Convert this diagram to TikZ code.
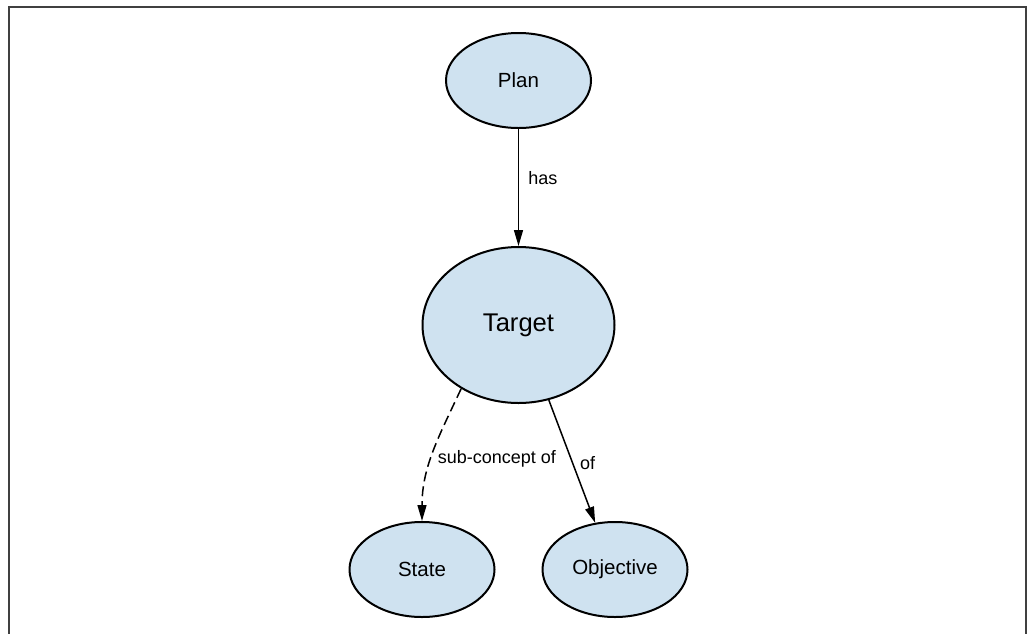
\documentclass[tikz,border=0pt]{standalone}
\usepackage{fontspec}
\setmainfont{Liberation Sans}
\usetikzlibrary{shapes.geometric, arrows.meta, positioning}
\definecolor{conceptfill}{RGB}{207,226,240}
\tikzset{
  concept/.style={ellipse, minimum width=145pt, minimum height=95pt, inner sep=0pt,
    text centered, draw=black, line width=2pt, fill=conceptfill, font=\fontsize{20.5}{24}\selectfont},
  bigconcept/.style={concept, minimum width=192pt, minimum height=156pt, font=\fontsize{25.6}{30}\selectfont},
  arr/.style={-{Triangle[length=16pt, width=9pt]}, line width=1.5pt, draw=black},
  darr/.style={arr, dash pattern=on 10pt off 5pt},
  lbl/.style={font=\fontsize{18}{22}\selectfont, inner sep=2pt},
  frame/.style={draw=black!75, line width=2pt},
}
\begin{document}
\begin{tikzpicture}[x=1pt, y=-1pt]
  \useasboundingbox (0,0) rectangle (1029,633);
  \draw[frame] (9,640) -- (9,7) -- (1026,7) -- (1026,640);

  \node[concept] (plan) at (518.5,80.5) {Plan};
  \node[bigconcept, below=117pt of plan] (target) {Target};
  \node[concept, below=117pt of target, xshift=-96.5pt] (state) {State};
  \node[concept, below=117pt of target, xshift=96.5pt] (objective) {Objective};

  % Relations
  \draw[arr] (plan) -- node[lbl, right=7pt, pos=0.42]{has} (target);
  \draw[darr] (target.228) to[out=245, in=90] node[lbl, right=4pt, pos=0.55]{sub-concept of} (state.north);
  \draw[arr] (target.292) -- node[lbl, right=5pt, pos=0.51]{of} (objective.113);
\end{tikzpicture}
\end{document}
